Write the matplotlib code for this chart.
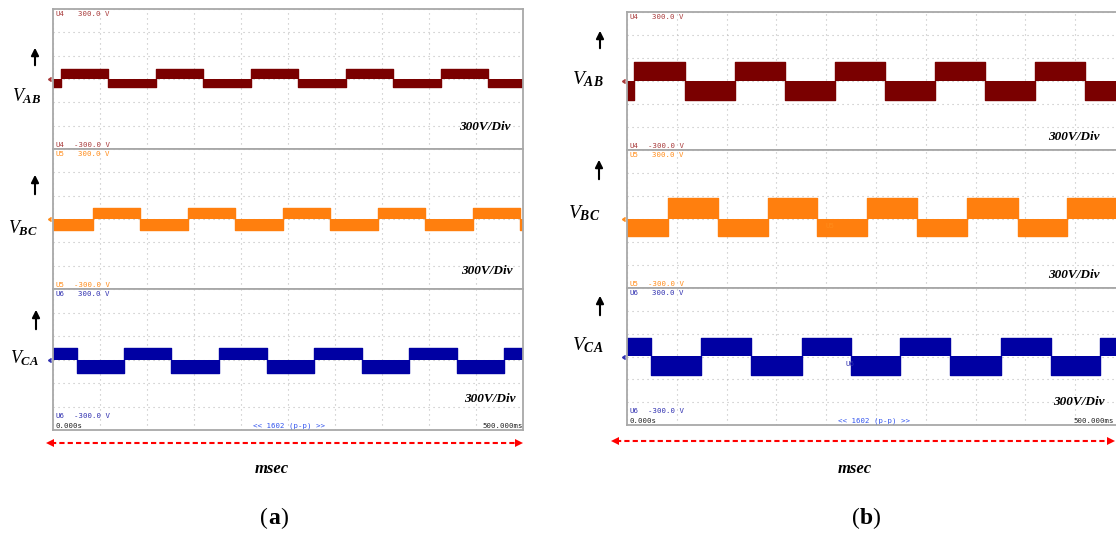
import numpy as np
import matplotlib
matplotlib.use("Agg")
import matplotlib.pyplot as plt

plt.rcParams['mathtext.fontset'] = 'custom'
plt.rcParams['mathtext.rm'] = 'Liberation Serif'
plt.rcParams['mathtext.it'] = 'Liberation Serif:italic'
plt.rcParams['mathtext.bf'] = 'Liberation Serif:bold:italic'

# ---- data (time in ms, volts) ----
# switching instants of each line voltage, first state, (high, low) band height
vab_edges_a = [8.5, 58.5, 109.6, 159.6, 210.6, 260.6, 311.7, 361.7, 412.8, 462.8]
vbc_edges_a = [42.6, 92.6, 143.6, 193.6, 244.7, 294.7, 345.7, 395.7, 446.8, 496.8]
vca_edges_a = [25.5, 75.5, 125.5, 176.6, 227.7, 277.7, 328.7, 378.7, 429.8, 479.8]
start_a = [-1, -1, 1]
amp_a = [(43, 36), (47, 47), (47, 56)]

vab_edges_b = [7.0, 58.2, 108.4, 158.6, 208.8, 259.0, 309.2, 359.4, 409.6, 459.8]
vbc_edges_b = [41.2, 91.4, 141.6, 190.8, 241.0, 291.2, 341.4, 392.6, 441.8, 492.0]
vca_edges_b = [24.1, 74.3, 124.5, 175.7, 224.9, 274.1, 324.3, 375.5, 425.7, 474.9]
start_b = [-1, -1, 1]
amp_b = [(82, 82), (90, 73), (82, 82)]

t_span = (0, 500)
volt_span = (-300, 300)
channel_names = ['AB', 'BC', 'CA']
probe_names = ['U4', 'U5', 'U6']
wave_colors = ['#7a0000', '#ff7f0e', '#0000a3']
label_colors = ['#a83a3a', '#ff8c1a', '#3030b0']

W, H = 1116, 533
fig = plt.figure(figsize=(W / 100, H / 100), dpi=100)


def box(x0, y0, x1, y1):
    return [x0 / W, 1 - y1 / H, (x1 - x0) / W, (y1 - y0) / H]


ov = fig.add_axes([0, 0, 1, 1])
ov.set_xlim(0, W)
ov.set_ylim(H, 0)
ov.axis('off')
ov.set_zorder(5)
ov.patch.set_alpha(0)

mono = dict(family='DejaVu Sans Mono', fontsize=5.3)
serif_bi = dict(family='Liberation Serif', style='italic', weight='bold')


def square_wave(edges, start):
    t = [t_span[0]] + list(edges) + [t_span[1]]
    s = [start * (-1) ** i for i in range(len(edges) + 1)]
    return np.array(t), np.array(s + [s[-1]])


panels = [
    dict(x0=53, x1=523, rows=[9, 149, 289, 430], edges=[vab_edges_a, vbc_edges_a, vca_edges_a],
         start=start_a, amp=amp_a,
         vlab=[(12, 96), (8, 228), (10, 358)], arrows=[(35, 68, 45), (35, 197, 172), (36, 332, 307)],
         div=[(485, 127), (487, 271), (490, 399)], vsize=13, red_y=443, red=(47, 522),
         msec=(272, 469), tag='a', tag_x=274, end_x=482, mid_x=289),
    dict(x0=627, x1=1125, rows=[12, 150, 288, 425], edges=[vab_edges_b, vbc_edges_b, vca_edges_b],
         start=start_b, amp=amp_b,
         vlab=[(572, 79), (568, 213), (572, 345)], arrows=[(600, 51, 28), (599, 182, 157), (600, 318, 293)],
         div=[(1074, 137), (1074, 275), (1079, 402)], vsize=14, red_y=441, red=(612, 1114),
         msec=(855, 469), tag='b', tag_x=866, end_x=1073, mid_x=874),
]

for p in panels:
    x0, x1, rows = p['x0'], p['x1'], p['rows']
    for k in range(3):
        ytop, ybot = rows[k], rows[k + 1]
        ax = fig.add_axes(box(x0, ytop, x1, ybot))
        ax.set_xlim(*t_span)
        ax.set_ylim(*volt_span)
        ax.set_xticks(np.arange(0, 501, 50))
        ax.set_yticks(np.arange(-300, 301, 100))
        ax.tick_params(length=0, labelbottom=False, labelleft=False)
        ax.set_axisbelow(True)
        ax.grid(True, color='#bcbcbc', lw=0.8, linestyle=(0, (1, 3.5)), zorder=0)
        for sp in ax.spines.values():
            sp.set_color('#a8a8a8')
            sp.set_linewidth(1.3)
        t, s = square_wave(p['edges'][k], p['start'][k])
        hi, lo = p['amp'][k]
        y = np.where(s > 0, hi, -lo)
        ax.fill_between(t, 0, y, step='post', color=wave_colors[k], lw=0, zorder=2)
        ax.step(t, y, where='post', color=wave_colors[k], lw=1.0, zorder=2)
        ax.plot([-5], [0], marker=4, ms=3, color=label_colors[k], clip_on=False)

        # probe range labels
        ov.text(x0 + 2, ytop + 5, probe_names[k], color=label_colors[k], va='center', **mono)
        ov.text(x0 + 57, ytop + 5, '300.0 V', color=label_colors[k], va='center', ha='right', **mono)
        yb = ybot - 4 if k < 2 else ybot - 14
        ov.text(x0 + 2, yb, probe_names[k], color=label_colors[k], va='center', **mono)
        ov.text(x0 + 57, yb, '-300.0 V', color=label_colors[k], va='center', ha='right', **mono)

        # left label + arrow
        lx, ly = p['vlab'][k]
        ov.text(lx, ly, r'$V_{\mathbf{%s}}$' % channel_names[k], fontsize=p['vsize'],
                ha='left', va='center', color='black')
        ax_x, a_tail, a_tip = p['arrows'][k]
        ov.annotate('', xy=(ax_x, a_tip), xytext=(ax_x, a_tail),
                    arrowprops=dict(arrowstyle='-|>', color='black', lw=1.5, mutation_scale=11))
        dx, dy = p['div'][k]
        ov.text(dx, dy, '300V/Div', fontsize=9.5, ha='center', va='center', **serif_bi)

    yb = rows[3] - 4
    ov.text(x0 + 2, yb, '0.000s', color='#222222', va='center', **mono)
    ov.text(p['mid_x'], yb, '<< 1602 (p-p) >>', color='#3355ee', va='center', ha='center', **mono)
    ov.text(p['end_x'], yb, '500.000ms', color='#222222', va='center', **mono)

    # red dashed time arrow
    ry = p['red_y']
    ra, rb = p['red']
    ov.plot([ra + 4, rb - 4], [ry, ry], color='red', lw=1.5, linestyle=(0, (2.5, 1.5)))
    ov.plot([ra + 3], [ry], marker='<', ms=6, color='red', mew=0)
    ov.plot([rb - 3], [ry], marker='>', ms=6, color='red', mew=0)

    mx, my = p['msec']
    ov.text(mx, my, 'msec', fontsize=12, ha='center', va='center', **serif_bi)
    cx = p['tag_x']
    ov.text(cx, 518, p['tag'], family='Liberation Serif', weight='bold', fontsize=17, ha='center', va='center')
    ov.text(cx - 6, 518, '(', family='Liberation Serif', fontsize=17, ha='right', va='center')
    ov.text(cx + 6, 518, ')', family='Liberation Serif', fontsize=17, ha='left', va='center')

# small channel markers inside panel (b)
ov.text(826, 226, 'U5', color=label_colors[1], va='center', **mono)
ov.text(846, 364, 'U6', color=label_colors[2], va='center', **mono)

fig.savefig('out.png', dpi=100)
